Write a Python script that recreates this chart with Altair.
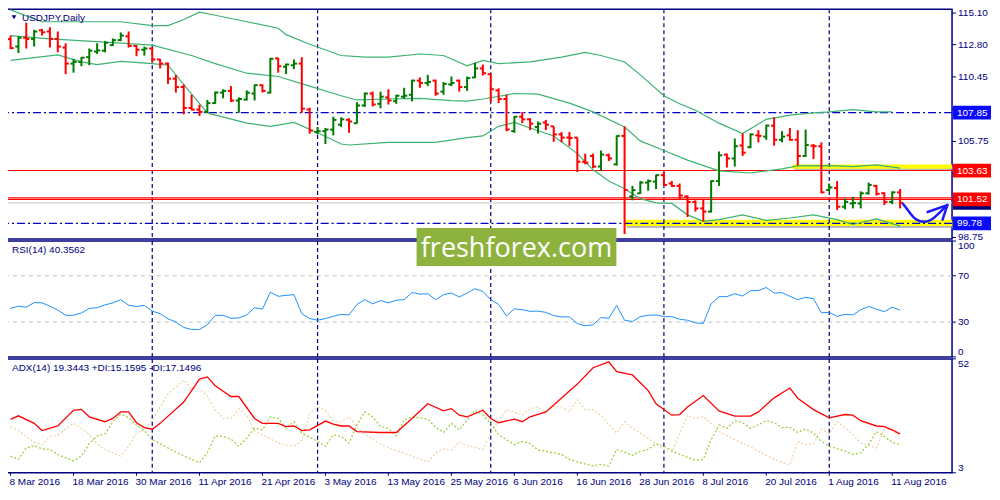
import altair as alt
import pandas as pd

# USDJPY daily bars, 8 Mar - 12 Aug 2016 (one bar per weekday)
opens = [113.20, 112.66, 113.30, 113.22, 113.85, 113.76, 113.22, 112.59, 111.42, 111.54,
         111.89, 112.30, 112.36, 112.76, 113.13, 113.41, 112.71, 112.43, 112.52, 111.72,
         111.42, 110.32, 109.71, 108.19, 108.07, 107.90, 108.54, 109.31, 109.43, 108.73,
         108.80, 109.24, 109.85, 109.31, 111.80, 111.19, 111.30, 111.42, 108.07, 106.43,
         106.50, 106.61, 106.97, 107.32, 107.08, 108.37, 109.24, 108.49, 108.96, 108.68,
         109.01, 109.15, 110.18, 110.01, 110.18, 109.38, 109.90, 110.18, 109.71, 110.41,
         111.07, 110.65, 109.47, 108.84, 106.50, 107.55, 107.36, 106.80, 107.13, 106.85,
         106.26, 106.03, 106.03, 104.27, 104.69, 103.92, 104.74, 104.08, 106.15, 101.75,
         101.97, 102.75, 102.82, 103.29, 102.68, 102.51, 101.74, 101.34, 100.87, 100.64,
         102.86, 104.79, 104.51, 105.45, 105.33, 106.19, 106.10, 106.90, 105.87, 106.19,
         105.87, 104.69, 105.44, 105.40, 102.21, 102.35, 100.99, 101.23, 101.23, 101.97,
         102.51, 101.97, 101.34, 102.04]
highs = [113.46, 113.41, 114.40, 113.88, 113.95, 114.07, 113.76, 112.90, 111.77, 111.89,
         112.52, 112.90, 113.06, 113.25, 113.69, 113.76, 112.76, 112.66, 112.59, 111.77,
         111.49, 110.60, 109.90, 109.15, 108.42, 108.77, 109.38, 109.55, 109.78, 108.96,
         109.47, 109.90, 109.90, 111.84, 111.84, 111.42, 111.72, 111.89, 108.21, 106.80,
         106.73, 107.55, 107.51, 107.44, 108.61, 109.31, 109.38, 109.38, 109.55, 109.15,
         109.66, 110.25, 110.41, 110.60, 110.25, 110.08, 110.48, 110.25, 110.48, 111.49,
         111.35, 110.72, 109.62, 109.15, 107.60, 107.90, 107.44, 107.20, 107.32, 106.85,
         106.43, 106.43, 106.03, 104.86, 104.86, 105.09, 104.86, 106.19, 106.85, 102.51,
         102.86, 102.98, 103.33, 103.52, 102.86, 102.68, 101.81, 101.46, 101.51, 102.91,
         105.02, 104.86, 105.96, 106.33, 106.33, 106.57, 106.97, 107.51, 106.50, 106.73,
         106.57, 106.61, 105.56, 105.68, 102.68, 102.86, 101.58, 101.69, 102.11, 102.75,
         102.58, 102.04, 102.11, 102.28]
lows = [112.47, 112.19, 112.52, 112.66, 113.46, 112.59, 112.24, 110.65, 110.76, 111.23,
        111.30, 112.12, 112.24, 112.71, 113.06, 112.59, 111.96, 112.00, 111.49, 111.07,
        109.94, 109.31, 107.72, 108.02, 107.60, 107.83, 108.49, 108.89, 108.61, 107.83,
        108.73, 108.73, 109.31, 109.24, 110.76, 110.65, 111.02, 107.83, 106.31, 106.26,
        105.56, 106.19, 106.80, 106.38, 107.04, 108.26, 108.30, 108.16, 108.44, 108.49,
        108.84, 108.66, 109.66, 109.78, 109.08, 109.15, 109.78, 109.38, 109.43, 110.36,
        110.55, 108.61, 108.54, 106.50, 106.38, 107.08, 106.57, 106.33, 106.57, 105.72,
        105.68, 105.40, 103.52, 104.08, 103.80, 103.61, 104.32, 103.99, 99.00, 101.46,
        101.93, 102.16, 102.28, 102.51, 102.44, 101.51, 100.24, 100.64, 99.93, 100.57,
        102.51, 103.85, 103.92, 104.69, 105.26, 105.68, 105.87, 105.44, 105.68, 105.80,
        103.99, 104.62, 104.46, 101.97, 102.12, 100.75, 100.80, 100.87, 100.87, 101.88,
        101.81, 101.11, 101.18, 100.87]
closes = [112.55, 113.30, 113.22, 113.76, 113.70, 113.22, 112.66, 111.42, 111.54, 111.85,
          112.36, 112.38, 112.94, 113.13, 113.46, 112.71, 112.43, 112.52, 111.72, 111.42,
          110.32, 109.71, 108.19, 108.07, 107.90, 108.54, 109.31, 109.43, 108.73, 108.84,
          109.30, 109.85, 109.43, 111.77, 111.23, 111.35, 111.42, 108.14, 106.54, 106.50,
          106.61, 107.32, 107.36, 107.20, 108.37, 109.24, 108.44, 109.01, 108.73, 109.08,
          109.08, 110.18, 110.01, 110.08, 109.24, 109.94, 110.01, 109.71, 110.36, 111.07,
          110.72, 109.55, 108.84, 106.61, 107.55, 107.36, 107.04, 107.04, 106.97, 106.26,
          106.03, 106.00, 104.27, 104.20, 103.92, 104.79, 104.51, 106.15, 102.21, 102.20,
          102.75, 102.86, 103.29, 102.58, 102.51, 101.81, 101.34, 100.87, 100.64, 102.86,
          104.74, 104.51, 105.40, 104.93, 106.26, 106.15, 106.90, 105.87, 106.10, 105.87,
          104.69, 105.49, 105.40, 102.04, 102.40, 100.99, 101.34, 101.27, 101.97, 102.58,
          101.93, 101.34, 102.04, 101.27]

# Bollinger bands (vertices, bar index / price)
upper_i = [0, 4, 14, 18, 20, 22, 24, 26, 30, 34, 35, 38, 42, 45, 48, 52, 55, 58, 60, 62,
           66, 70, 73, 75, 78, 80, 83, 85, 87, 90, 93, 96, 99, 102, 104, 107, 110, 112]
upper_p = [115.33, 114.47, 114.47, 114.19, 114.19, 114.63, 115.17, 114.94, 114.47, 114.00,
           113.53, 112.83, 112.01, 111.89, 111.89, 112.12, 112.01, 111.26, 111.65, 111.42,
           111.54, 111.89, 112.24, 112.01, 111.54, 110.60, 109.08, 108.49, 108.02, 107.08,
           106.33, 107.36, 107.67, 107.83, 107.90, 108.07, 107.90, 107.90]
mid_i = [0, 5, 12, 18, 23, 26, 30, 34, 38, 42, 44, 48, 52, 56, 58, 60, 64, 67, 71, 74,
         78, 80, 83, 86, 90, 94, 98, 100, 104, 107, 110, 113]
mid_p = [113.46, 113.22, 112.99, 112.76, 112.01, 111.42, 110.72, 110.48, 109.78, 109.08,
         108.77, 108.84, 108.89, 108.72, 108.68, 108.84, 109.24, 109.19, 108.54, 107.90,
         106.80, 105.79, 105.09, 104.39, 103.61, 103.45, 103.75, 103.97, 103.99, 103.92,
         104.04, 103.80]
lower_i = [0, 6, 9, 11, 14, 18, 20, 23, 25, 30, 33, 36, 39, 42, 43, 48, 54, 58, 60, 62,
           64, 66, 69, 72, 74, 76, 78, 80, 82, 84, 86, 88, 90, 93, 96, 99, 102, 105, 107, 110,
           113]
lower_p = [111.65, 112.05, 111.54, 111.35, 111.58, 111.42, 111.30, 109.19, 107.83, 107.08,
           106.85, 107.13, 106.38, 105.56, 105.49, 105.68, 105.68, 106.03, 106.15, 106.85,
           107.13, 106.73, 106.15, 104.86, 103.68, 102.86, 102.30, 101.58, 101.27, 101.23,
           100.40, 99.93, 100.05, 100.40, 100.00, 100.17, 100.40, 100.05, 99.70, 100.10,
           99.58]

rsi = [41.8, 43.8, 42.9, 46.9, 46.6, 43.8, 40.4, 35.9, 35.9, 37.9,
       41.8, 42.4, 44.9, 46.6, 49.4, 44.6, 43.5, 44.4, 39.5, 37.3,
       32.8, 30.2, 25.4, 23.7, 23.7, 27.7, 35.9, 35.9, 33.3, 33.6,
       36.2, 42.4, 41.2, 55.9, 52.3, 53.1, 53.7, 37.3, 33.1, 31.6,
       33.1, 35.0, 36.7, 36.2, 45.2, 49.4, 45.8, 48.6, 46.6, 48.9,
       49.4, 55.6, 54.2, 54.5, 49.4, 53.7, 55.1, 51.7, 55.1, 58.8,
       56.5, 49.4, 45.2, 35.3, 41.5, 40.7, 39.3, 39.5, 38.4, 35.6,
       34.5, 34.5, 28.8, 26.8, 27.7, 33.9, 33.3, 44.4, 31.6, 30.5,
       34.7, 35.9, 36.2, 34.7, 34.7, 32.5, 31.6, 29.4, 28.8, 45.8,
       52.0, 52.0, 54.5, 52.5, 57.1, 57.3, 59.9, 55.1, 55.4, 52.3,
       49.4, 51.4, 50.3, 38.1, 38.4, 35.0, 36.7, 36.2, 40.7, 43.5,
       41.2, 39.0, 42.9, 40.4]
rsi_levels = [70, 30]

adx_i = [0, 1, 3, 4, 6, 8, 9, 10, 12, 13, 14, 15, 16, 17, 18, 19, 22, 24, 25, 26,
         28, 29, 31, 32, 34, 35, 36, 37, 38, 40, 41, 42, 43, 44, 47, 49, 51, 53, 55, 56,
         57, 58, 60, 61, 62, 64, 65, 66, 68, 70, 72, 74, 76, 77, 79, 81, 82, 84, 85, 86,
         88, 90, 92, 94, 95, 97, 99, 100, 102, 104, 106, 107, 108, 110, 111, 112, 113]
adx_v = [25.95, 27.5, 24.26, 21.16, 23.13, 29.89, 30.3, 27.08, 24.96, 26.37,
         29.19, 29.19, 24.54, 22.43, 21.73, 24.26, 33.41, 43.27, 44.25, 40.45,
         35.81, 35.81, 26.37, 24.26, 24.26, 22.85, 23.13, 21.16, 21.44, 25.25,
         23.98, 23.13, 23.13, 20.74, 20.32, 20.32, 26.37, 32.71, 29.61, 30.6,
         27.78, 27.08, 29.89, 26.37, 24.54, 26.09, 24.96, 27.08, 29.19, 35.2,
         41.16, 48.2, 50.73, 46.5, 45.1, 38.34, 32.71, 27.78, 28.06, 31.3,
         36.23, 29.61, 27.36, 27.36, 29.19, 35.24, 39.47, 35.1, 30.17, 26.65,
         28.06, 27.78, 25.39, 23.13, 22.85, 21.44, 19.76]
pdi_i = [0, 1, 2, 3, 4, 5, 6, 8, 9, 10, 11, 12, 13, 14, 15, 16, 17, 18, 19, 20,
         21, 23, 24, 25, 26, 27, 28, 29, 30, 31, 32, 33, 34, 35, 36, 37, 39, 40, 41, 42,
         43, 44, 45, 46, 47, 48, 49, 50, 51, 52, 53, 54, 55, 56, 57, 59, 60, 61, 62, 63,
         64, 65, 66, 67, 68, 70, 71, 72, 74, 75, 76, 77, 78, 79, 80, 81, 82, 83, 84, 85,
         87, 88, 89, 90, 91, 92, 93, 94, 95, 96, 97, 98, 99, 100, 101, 102, 103, 104, 106, 107,
         108, 109, 110, 111, 112, 113]
pdi_v = [10.18, 8.77, 13.7, 14.69, 13.28, 13.0, 10.88, 8.07, 10.18, 15.53,
         18.91, 19.76, 24.96, 28.2, 26.65, 23.56, 21.16, 17.22, 15.53, 13.7,
         11.87, 8.77, 7.36, 11.59, 18.91, 18.63, 17.5, 14.4, 17.92, 22.15,
         21.44, 27.08, 26.37, 22.15, 24.96, 20.04, 16.52, 14.4, 19.33, 18.63,
         15.81, 23.56, 29.19, 27.08, 22.85, 22.15, 18.91, 25.67, 27.08, 26.65,
         26.09, 22.57, 20.32, 24.26, 21.44, 29.89, 27.78, 24.26, 19.33, 17.22,
         15.11, 16.52, 15.53, 12.72, 12.29, 10.88, 8.77, 7.65, 5.96, 6.66,
         5.96, 13.0, 11.87, 10.46, 12.29, 13.0, 15.53, 14.4, 12.57, 10.88,
         8.35, 8.77, 17.22, 23.56, 22.15, 25.39, 24.54, 22.15, 23.56, 25.39,
         24.54, 22.43, 22.57, 20.32, 21.87, 20.04, 16.52, 14.4, 12.29, 10.88,
         11.59, 15.11, 20.74, 18.63, 16.09, 15.11]
mdi_i = [0, 1, 2, 3, 4, 5, 6, 8, 9, 10, 11, 12, 14, 15, 16, 17, 18, 19, 20, 22,
         23, 24, 25, 26, 27, 28, 29, 30, 31, 32, 34, 35, 36, 37, 38, 39, 40, 41, 42, 43,
         44, 45, 47, 48, 49, 51, 53, 54, 55, 56, 57, 58, 60, 61, 62, 63, 64, 65, 66, 67,
         68, 69, 70, 71, 72, 73, 74, 75, 77, 78, 79, 80, 82, 83, 84, 85, 86, 87, 88, 89,
         90, 92, 94, 95, 97, 98, 99, 100, 101, 102, 103, 104, 105, 106, 107, 108, 109, 110, 111, 112,
         113]
mdi_v = [22.85, 21.16, 18.63, 16.09, 15.11, 18.63, 19.33, 24.26, 22.15, 19.33,
         15.53, 13.0, 10.18, 14.4, 20.04, 21.44, 25.67, 31.3, 36.93, 42.85,
         39.05, 39.05, 36.23, 29.89, 26.37, 26.37, 30.6, 27.78, 20.74, 19.33,
         15.81, 14.97, 14.4, 17.0, 28.5, 31.3, 29.89, 25.25, 24.96, 27.08,
         22.85, 19.33, 15.53, 13.7, 12.57, 10.18, 7.65, 11.59, 13.28, 12.72,
         16.09, 14.69, 13.0, 20.04, 25.5, 30.17, 29.19, 27.78, 30.6, 31.3,
         29.19, 31.58, 31.3, 29.19, 34.4, 30.17, 30.17, 27.78, 20.04, 24.96,
         22.15, 20.04, 15.53, 12.57, 11.87, 20.04, 27.78, 26.37, 27.08, 24.26,
         20.74, 17.22, 14.12, 12.29, 8.77, 7.65, 6.24, 16.52, 15.11, 15.53,
         21.73, 19.76, 24.96, 22.43, 19.33, 15.81, 14.69, 13.7, 21.73, 21.44,
         18.63]

# objects drawn on the price window
red_levels = [103.63, 101.64, 101.52]
dashdot_levels = [107.85, 99.78]
bid_level = [101.27]
blue_tags = [107.85, 99.78]
red_tags = [103.63, 101.52]
zone_start = [99.3, 78.0]
zone_low = [103.76, 99.58]
zone_high = [104.06, 100.05]
arrow_i = [113.4, 114.25, 115.0, 116.25, 117.1, 118.0, 118.6, 119.0]
arrow_p = [101.18, 100.54, 99.98, 99.84, 100.05, 100.54, 100.90, 101.11]
head_i = [116.5, 118.4]
head_p = [100.61, 100.05]

# scale labels on the right-hand side and under the last window
price_ticks = [115.10, 112.80, 110.45, 108.10, 105.75, 103.40, 98.75]
rsi_ticks = [100, 70, 30, 0]
adx_ticks = [52, 3]
tick_labels = ["8 Mar 2016", "18 Mar 2016", "30 Mar 2016", "11 Apr 2016", "21 Apr 2016",
               "3 May 2016", "13 May 2016", "25 May 2016", "6 Jun 2016", "16 Jun 2016",
               "28 Jun 2016", "8 Jul 2016", "20 Jul 2016", "1 Aug 2016", "11 Aug 2016"]

n = len(closes)
dates = pd.bdate_range("2016-03-08", periods=n)
month_starts = [i for i in range(1, n) if dates[i].month != dates[i - 1].month]
tick_pos = list(range(0, n, 8))

W = 946
H1, H2, H3 = 230, 116, 114
NAVY = "#000080"
FONT = "Liberation Sans"
X_END = 119.6
xs = alt.Scale(domain=[-0.45, X_END], nice=False, zero=False)
ps = alt.Scale(domain=[98.64, 115.38], nice=False, zero=False)
rs = alt.Scale(domain=[0, 100], nice=False)
ds = alt.Scale(domain=[3, 52], nice=False, zero=False)

bars = pd.DataFrame({"i": range(n), "o": opens, "h": highs, "l": lows, "c": closes})
bar_color = alt.condition("datum.c >= datum.o", alt.value("#007a00"), alt.value("#ff0000"))


def month_lines():
    return (
        alt.Chart(pd.DataFrame({"i": month_starts}))
        .mark_rule(color=NAVY, strokeDash=[4, 3], strokeWidth=1.2)
        .encode(x=alt.X("i:Q", scale=xs, axis=None))
    )


def hlines(values, scale, **style):
    return (
        alt.Chart(pd.DataFrame({"p": values}))
        .mark_rule(**style)
        .encode(y=alt.Y("p:Q", scale=scale, axis=None))
    )


def label(text, x, y, **style):
    return (
        alt.Chart(pd.DataFrame({"t": [text]}))
        .mark_text(align="left", baseline="middle", font=FONT, fontSize=10, **style)
        .encode(x=alt.value(x), y=alt.value(y), text="t:N")
    )


def series(xi, yv, scale):
    return alt.Chart(pd.DataFrame({"i": xi, "v": yv})).encode(
        x=alt.X("i:Q", scale=xs, axis=None), y=alt.Y("v:Q", scale=scale, axis=None)
    )


def scale_ticks(values, scale):
    return (
        alt.Chart(pd.DataFrame({"v": values}))
        .mark_rule(color=NAVY, strokeWidth=1)
        .encode(x=alt.value(W), x2=alt.value(W + 4), y=alt.Y("v:Q", scale=scale, axis=None))
    )


def scale_labels(values, scale, fmt, baseline="middle"):
    return (
        alt.Chart(pd.DataFrame({"v": values}))
        .mark_text(align="left", baseline=baseline, font=FONT, fontSize=10, color=NAVY)
        .encode(x=alt.value(W + 6), y=alt.Y("v:Q", scale=scale, axis=None),
                text=alt.Text("v:Q", format=fmt))
    )


# ---- price window ----
zones = pd.DataFrame({"x1": zone_start, "x2": [X_END] * 2, "p1": zone_low, "p2": zone_high})
zone_enc = dict(
    x=alt.X("x1:Q", scale=xs, axis=None), x2="x2:Q",
    y=alt.Y("p1:Q", scale=ps, axis=None), y2="p2:Q",
)
shadow = alt.Chart(zones).mark_rect(
    color="#8a8a8a", opacity=0.6, xOffset=2, x2Offset=2, yOffset=2, y2Offset=2
).encode(**zone_enc)
yellow = alt.Chart(zones).mark_rect(color="#ffff00").encode(**zone_enc)

bands = pd.concat([
    pd.DataFrame({"band": "upper", "i": upper_i, "p": upper_p}),
    pd.DataFrame({"band": "mid", "i": mid_i, "p": mid_p}),
    pd.DataFrame({"band": "lower", "i": lower_i, "p": lower_p}),
])
bb = alt.Chart(bands).mark_line(color="#3cb371", strokeWidth=1.2).encode(
    x=alt.X("i:Q", scale=xs, axis=None),
    y=alt.Y("p:Q", scale=ps, axis=None),
    detail="band:N",
)

hl = alt.Chart(bars).mark_rule(strokeWidth=2).encode(
    x=alt.X("i:Q", scale=xs, axis=None),
    y=alt.Y("l:Q", scale=ps, axis=None),
    y2="h:Q",
    color=bar_color,
)
open_tick = alt.Chart(bars).transform_calculate(xo="datum.i - 0.4").mark_rule(strokeWidth=2).encode(
    x=alt.X("xo:Q", scale=xs, axis=None), x2="i:Q",
    y=alt.Y("o:Q", scale=ps, axis=None), color=bar_color,
)
close_tick = alt.Chart(bars).transform_calculate(xc="datum.i + 0.4").mark_rule(strokeWidth=2).encode(
    x=alt.X("i:Q", scale=xs, axis=None), x2="xc:Q",
    y=alt.Y("c:Q", scale=ps, axis=None), color=bar_color,
)

arrow = series(arrow_i, arrow_p, ps).mark_line(
    color="#1a1aff", strokeWidth=2.5, interpolate="basis", strokeCap="round")
head = (
    alt.Chart(pd.DataFrame({"i": head_i, "p": head_p,
                            "ti": [arrow_i[-1]] * 2, "tp": [arrow_p[-1]] * 2}))
    .mark_rule(color="#1a1aff", strokeWidth=2.5, strokeCap="round")
    .encode(x=alt.X("i:Q", scale=xs, axis=None), x2="ti:Q",
            y=alt.Y("p:Q", scale=ps, axis=None), y2="tp:Q")
)

triangle = (
    alt.Chart(pd.DataFrame({"t": ["USDJPY,Daily"]}))
    .mark_point(shape="triangle-down", filled=True, size=22, color=NAVY, opacity=1, strokeWidth=0)
    .encode(x=alt.value(7), y=alt.value(8))
)


def tag_boxes(values, fill):
    return (
        alt.Chart(pd.DataFrame({"p": values}))
        .transform_calculate(lo="datum.p - 0.5", hi="datum.p + 0.5")
        .mark_rect(color=fill)
        .encode(x=alt.value(W + 1), x2=alt.value(W + 39),
                y=alt.Y("lo:Q", scale=ps, axis=None), y2="hi:Q")
    )


def tag_text(values, color, dy=0):
    return (
        alt.Chart(pd.DataFrame({"p": values}))
        .mark_text(align="left", baseline="middle", font=FONT, fontSize=10, color=color, dy=dy)
        .encode(x=alt.value(W + 5), y=alt.Y("p:Q", scale=ps, axis=None),
                text=alt.Text("p:Q", format=".2f"))
    )


main = alt.layer(
    shadow, yellow, month_lines(),
    hlines(red_levels, ps, color="#ff0000", strokeWidth=1.2),
    hlines(dashdot_levels, ps, color="#0000cd", strokeWidth=1.3, strokeDash=[8, 3, 2, 3]),
    hlines(bid_level, ps, color="#c8c8c8", strokeWidth=1),
    bb, hl, open_tick, close_tick, arrow, head,
    triangle, label("USDJPY,Daily", 15, 9, color=NAVY),
    scale_ticks(price_ticks, ps), scale_labels(price_ticks, ps, ".2f"),
    tag_boxes(bid_level, NAVY), tag_text(bid_level, "white"),
    tag_boxes(blue_tags, "#0a0aff"), tag_boxes(red_tags, "#ff0000"),
    tag_text(blue_tags + red_tags, "white"),
).properties(width=W, height=H1)

# ---- RSI window ----
rsi_line = series(list(range(n)), rsi, rs).mark_line(color="#1e90ff", strokeWidth=1)
logo_box = (
    alt.Chart(pd.DataFrame({"t": ["freshforex.com"]}))
    .mark_rect(color="#8db33e")
    .encode(x=alt.value(410), x2=alt.value(610), y=alt.value(-13), y2=alt.value(25))
)
logo_text = (
    alt.Chart(pd.DataFrame({"t": ["freshforex.com"]}))
    .mark_text(align="center", baseline="alphabetic", font="Open Sans", fontSize=27, color="white")
    .encode(x=alt.value(510), y=alt.value(16), text="t:N")
)
rsi_panel = alt.layer(
    hlines(rsi_levels, rs, color="#c0c0c0", strokeDash=[4, 4], strokeWidth=1),
    month_lines(), rsi_line,
    scale_ticks(rsi_ticks, rs),
    scale_labels(rsi_ticks[:1], rs, "d", baseline="top"),
    scale_labels(rsi_ticks[1:3], rs, "d"),
    scale_labels(rsi_ticks[3:], rs, "d", baseline="bottom"),
    label("RSI(14) 40.3562", 5, 9, color=NAVY),
    logo_box, logo_text,
).properties(width=W, height=H2)

# ---- ADX window ----
date_ticks = (
    alt.Chart(pd.DataFrame({"i": tick_pos}))
    .mark_rule(color=NAVY, strokeWidth=1)
    .encode(x=alt.X("i:Q", scale=xs, axis=None), y=alt.value(H3), y2=alt.value(H3 + 3))
)
date_text = (
    alt.Chart(pd.DataFrame({"i": tick_pos, "t": tick_labels}))
    .mark_text(align="left", baseline="top", font=FONT, fontSize=10, color=NAVY, dx=-1)
    .encode(x=alt.X("i:Q", scale=xs, axis=None), y=alt.value(H3 + 4), text="t:N")
)
adx_panel = alt.layer(
    month_lines(),
    series(mdi_i, mdi_v, ds).mark_line(color="#f0d2a0", strokeWidth=1.2, strokeDash=[2, 2]),
    series(pdi_i, pdi_v, ds).mark_line(color="#9acd32", strokeWidth=1.2, strokeDash=[2, 2]),
    series(adx_i, adx_v, ds).mark_line(color="#ff0000", strokeWidth=1.3),
    scale_ticks(adx_ticks, ds),
    scale_labels(adx_ticks[:1], ds, "d", baseline="top"),
    scale_labels(adx_ticks[1:], ds, "d", baseline="bottom"),
    date_ticks, date_text,
    label("ADX(14) 19.3443 +DI:15.1595 -DI:17.1496", 5, 9, color=NAVY),
).properties(width=W, height=H3)

chart = (
    alt.vconcat(main, rsi_panel, adx_panel, spacing=2, bounds="flush")
    .properties(padding={"left": -3, "top": -2, "right": 0, "bottom": 0}, background="white")
    .configure_view(stroke=NAVY, strokeWidth=1.5)
)

chart.save("out.html", embed_options={"renderer": "svg", "actions": False})
